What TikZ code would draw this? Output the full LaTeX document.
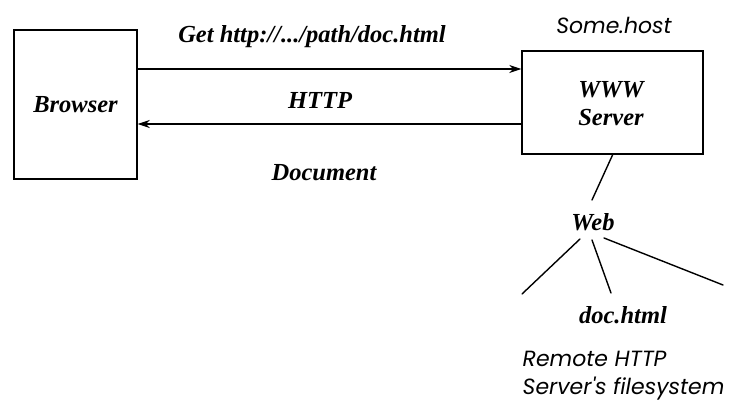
\documentclass[tikz,border=0pt]{standalone}
\usepackage{fontspec}
\setmainfont{Liberation Serif}
\newfontfamily\gothic{Poppins}
\usetikzlibrary{arrows.meta}
\begin{document}
\begin{tikzpicture}[x=1pt,y=-1pt,
  line width=1.4pt,
  label/.style={font=\fontsize{24.5}{26}\selectfont\bfseries\itshape, inner sep=0pt, align=center},
  note/.style={font=\fontsize{22}{28}\selectfont\gothic\itshape, inner sep=0pt, align=left},
  box/.style={draw, inner sep=0pt},
  msg/.style={-{Stealth[length=12pt,width=8pt]}},
  branch/.style={line cap=round}]
\useasboundingbox (0,0) rectangle (731,411);

% the two hosts
\node[box, minimum width=123pt, minimum height=149pt] (browser) at (75.5,104.5) {};
\node[label] at (browser.center) {Browser};
\node[box, minimum width=181pt, minimum height=103pt] (server) at (612.5,102.5) {};
\node[label] (srvtext) at (611,104) {WWW\\[2pt]Server};
\node[note] (host) at (614,25) {Some.host};

% request and response
\coordinate (reqA) at (browser.east |- 0,69);
\coordinate (reqB) at (server.west |- 0,69);
\coordinate (resA) at (server.west |- 0,124);
\coordinate (resB) at (browser.east |- 0,124);
\draw[msg] (reqA) -- (reqB);
\draw[msg] (resA) -- (resB);
\node[label] (get) at (312,37) {Get http://.../path/doc.html};
\node[label] (proto) at (320,100) {HTTP};
\node[label] (doc) at (324,173) {Document};

% remote file tree
\node[label] (web) at (593,222) {Web};
\coordinate (srvfoot) at (613,154);
\coordinate (webtop) at (592,200);
\draw[branch] (srvfoot) -- (webtop);
\coordinate (w1) at (580,239);
\coordinate (w2) at (592,240);
\coordinate (w3) at (604,238);
\coordinate (leafA) at (522,294);
\coordinate (leafB) at (611,293);
\coordinate (leafC) at (723,285);
\draw[branch] (w1) -- (leafA);
\draw[branch] (w2) -- (leafB);
\draw[branch] (w3) -- (leafC);
\node[label] (file) at (623,315) {doc.html};
\node[note, anchor=west] (fs) at (522,376) {Remote HTTP\\Server's filesystem};
\end{tikzpicture}
\end{document}
